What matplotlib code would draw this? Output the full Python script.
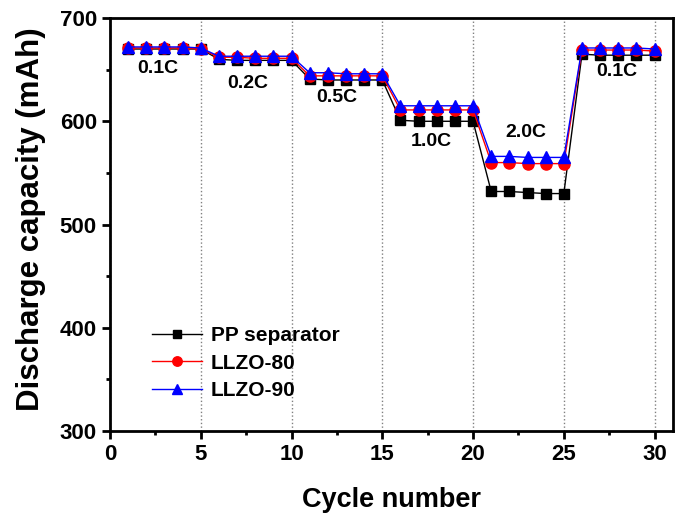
import numpy as np
import matplotlib.pyplot as plt
from matplotlib.ticker import MultipleLocator

plt.rcParams['font.family'] = ['Liberation Sans', 'DejaVu Sans']
plt.rcParams['font.weight'] = 'bold'

cycles = np.arange(1, 31)
pp = [670, 670, 670, 670, 670, 660, 659, 659, 659, 659,
      641, 640, 640, 640, 640, 601, 600, 600, 600, 600,
      532, 532, 531, 530, 530, 665, 664, 664, 664, 664]
llzo80 = [671, 671, 671, 671, 670, 662, 662, 661, 661, 661,
          644, 644, 644, 644, 644, 611, 611, 611, 611, 611,
          560, 560, 559, 559, 559, 669, 669, 669, 669, 668]
llzo90 = [672, 672, 672, 672, 671, 663, 663, 663, 663, 663,
          647, 647, 646, 646, 646, 615, 615, 615, 615, 615,
          566, 566, 565, 565, 565, 671, 671, 671, 671, 670]

rates = ["0.1C", "0.2C", "0.5C", "1.0C", "2.0C", "0.1C"]
rate_pos = [(2.65, 651), (7.6, 637), (12.5, 623), (17.7, 580), (22.9, 589), (27.9, 648)]

fig = plt.figure(figsize=(6.83, 5.15), dpi=100)
ax = fig.add_axes([0.161, 0.163, 0.824, 0.802])

ax.plot(cycles, pp, "-s", color="black", lw=1, ms=7, label="PP separator")
ax.plot(cycles, llzo80, "-o", color="red", lw=1, ms=8, label="LLZO-80")
ax.plot(cycles, llzo90, "-^", color="blue", lw=1, ms=8, label="LLZO-90")

for t, (x, y) in zip(rates, rate_pos):
    ax.text(x, y, t, ha="center", va="center", fontsize=14, fontweight="bold")

ax.set_xlim(0, 31)
ax.set_ylim(300, 700)
ax.xaxis.set_major_locator(MultipleLocator(5))
ax.xaxis.set_minor_locator(MultipleLocator(2.5))
ax.yaxis.set_major_locator(MultipleLocator(100))
ax.yaxis.set_minor_locator(MultipleLocator(50))
ax.set_xticks([0, 5, 10, 15, 20, 25, 30])
ax.grid(axis="x", which="major", linestyle=":", color="gray", lw=1)

for s in ax.spines.values():
    s.set_linewidth(2)
ax.tick_params(which="major", direction="out", length=6, width=2, labelsize=16)
ax.tick_params(which="minor", direction="out", length=3, width=2)

ax.set_xlabel("Cycle number", fontsize=19.5, fontweight="bold", labelpad=16)
ax.set_ylabel("Discharge capacity (mAh)", fontsize=22.5, fontweight="bold")
ax.yaxis.set_label_coords(-0.114, 0.512)

leg = ax.legend(loc="upper left", bbox_to_anchor=(0.042, 0.30), frameon=False,
                fontsize=15, handlelength=2.4, handletextpad=0.4,
                labelspacing=0.42, markerscale=0.85)

fig.savefig("out.png", dpi=100)
